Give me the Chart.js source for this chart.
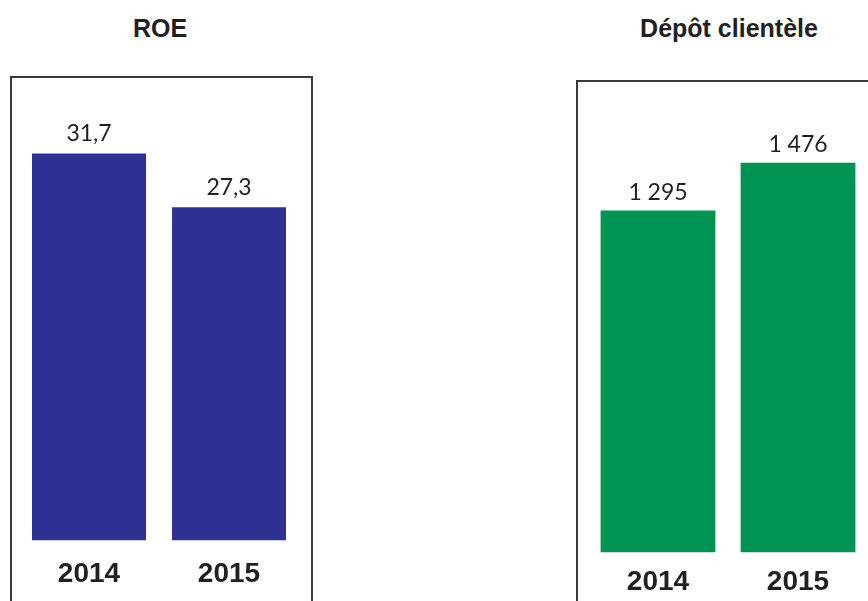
<!DOCTYPE html>
<html>
<head>
<meta charset="utf-8">
<script src="https://cdn.jsdelivr.net/npm/chart.js@4.4.1/dist/chart.umd.min.js"></script>
<style>
  html, body { margin: 0; padding: 0; background: #ffffff; }
  body { width: 868px; height: 601px; overflow: hidden; position: relative; font-family: "Liberation Sans", Arial, sans-serif; }
  .box { position: absolute; border: 2px solid #3a3a3a; box-sizing: border-box; }
  .title { position: absolute; font-weight: bold; font-size: 25px; color: #231f20; text-align: center; white-space: nowrap; }
  .chart { position: absolute; }
</style>
</head>
<body>
<div class="box" style="left:10px; top:76px; width:303px; height:600px;"></div>
<div class="box" style="left:576px; top:80px; width:400px; height:600px;"></div>
<div class="title" id="t1" style="left:60px; top:14px; width:200px;"></div>
<div class="title" id="t2" style="left:580px; top:14px; width:298px;"></div>
<div class="chart" style="left:19px; top:0px; width:280px; height:610px;"><canvas id="c1" width="280" height="610"></canvas></div>
<div class="chart" style="left:588px; top:0px; width:280px; height:617px;"><canvas id="c2" width="280" height="617"></canvas></div>
<script>
const categories = ['2014', '2015'];
const roeValues = [31.7, 27.3];
const depotValues = [1295, 1476];
const chartTitles = ['ROE', 'Dépôt clientèle'];

document.getElementById('t1').textContent = chartTitles[0];
document.getElementById('t2').textContent = chartTitles[1];

function fmtRoe(v) { return v.toFixed(1).replace('.', ','); }
function fmtDepot(v) { return String(Math.round(v)).replace(/\B(?=(\d{3})+(?!\d))/g, ' '); }

function valueLabels(fmt, gap) {
  return {
    id: 'valueLabels',
    afterDatasetsDraw(chart) {
      const ctx = chart.ctx;
      const meta = chart.getDatasetMeta(0);
      const data = chart.data.datasets[0].data;
      ctx.save();
      ctx.font = '400 23px Lato, "Liberation Sans", sans-serif';
      ctx.fillStyle = '#231f20';
      ctx.textAlign = 'center';
      ctx.textBaseline = 'alphabetic';
      meta.data.forEach((bar, i) => {
        ctx.fillText(fmt(data[i]), bar.x, bar.y - gap);
      });
      ctx.restore();
    }
  };
}

function makeChart(id, values, color, yMax, padTop, padBottom, tickPad, barPct, fmt, gap) {
  return new Chart(document.getElementById(id), {
    type: 'bar',
    data: {
      labels: categories,
      datasets: [{
        data: values,
        backgroundColor: color,
        borderWidth: 0,
        categoryPercentage: 1,
        barPercentage: barPct
      }]
    },
    options: {
      responsive: false,
      animation: false,
      events: [],
      layout: { padding: { top: padTop, bottom: padBottom, left: 0, right: 0 } },
      plugins: { legend: { display: false }, title: { display: false }, tooltip: { enabled: false } },
      scales: {
        x: {
          grid: { display: false, drawTicks: false },
          border: { display: false },
          ticks: {
            padding: tickPad,
            color: '#231f20',
            font: { family: '"Liberation Sans", Arial, sans-serif', size: 28, weight: 'bold' }
          }
        },
        y: { display: false, min: 0, max: yMax }
      }
    },
    plugins: [valueLabels(fmt, gap)]
  });
}

makeChart('c1', roeValues, '#2e3192', 36, 101, 2, 17, 114 / 140, fmtRoe, 12);
makeChart('c2', depotValues, '#009452', 1600, 130, 5, 13, 114 / 139, fmtDepot, 11);
</script>
</body>
</html>
